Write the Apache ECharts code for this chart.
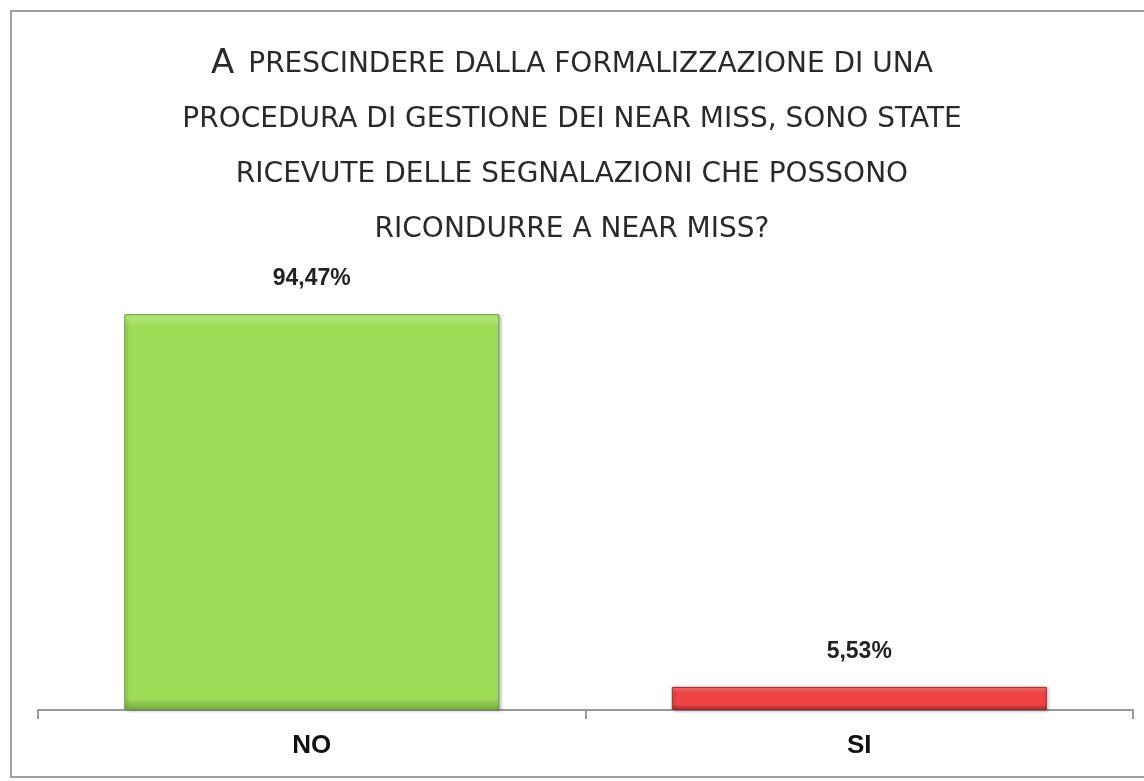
<!DOCTYPE html>
<html>
<head>
<meta charset="utf-8">
<title>Near miss</title>
<script src="https://cdn.jsdelivr.net/npm/echarts@6/dist/echarts.min.js"></script>
<style>
  html, body { margin: 0; padding: 0; background: #fff; }
  #chart { width: 1144px; height: 781px; }
</style>
</head>
<body>
<div id="chart"></div>
<script>
// dati
const categories = ['NO', 'SI']
const values = [94.47, 5.53]
const titleFirst = 'A'
const titleLines = [
  'PRESCINDERE DALLA FORMALIZZAZIONE DI UNA',
  'PROCEDURA DI GESTIONE DEI NEAR MISS, SONO STATE',
  'RICEVUTE DELLE SEGNALAZIONI CHE POSSONO',
  'RICONDURRE A NEAR MISS?'
]

// colori barre (verde / rosso) con effetto rilievo
function bevel(light, base, dark, edge) {
  return {
    type: 'linear', x: 0, y: 0, x2: 0, y2: 1,
    colorStops: [
      { offset: 0, color: light },
      { offset: edge, color: base },
      { offset: 1 - edge, color: base },
      { offset: 1, color: dark }
    ]
  }
}
const barStyles = [
  { color: bevel('#bdf082', '#9cdc57', '#76ab3c', 0.03), borderColor: '#6f9e3a' },
  { color: bevel('#ff7a7a', '#ee4444', '#a82a2a', 0.25), borderColor: '#9e2424' }
]

const titleText = titleLines.map(function (line, i) {
  return i === 0 ? '{a|' + titleFirst + '} {b| ' + line + '}' : '{b|' + line + '}'
}).join('\n')

const myChart = echarts.init(document.getElementById('chart'))
myChart.setOption({
  animation: false,
  backgroundColor: '#fff',
  title: {
    text: titleText,
    left: 'center',
    top: 37,
    padding: [0, 0, 0, 16],
    textStyle: {
      fontWeight: 'normal',
      rich: {
        a: { fontFamily: 'DejaVu Sans', fontWeight: 'normal', fontSize: 34, color: '#2a2a2a', lineHeight: 55 },
        b: { fontFamily: 'DejaVu Sans', fontWeight: 'normal', fontSize: 28, color: '#2a2a2a', lineHeight: 55 }
      }
    }
  },
  graphic: [{
    type: 'rect',
    shape: { x: 11, y: 11, width: 1150, height: 766 },
    style: { fill: 'none', stroke: '#a0a0a0', lineWidth: 2 },
    silent: true
  }],
  grid: {
    left: 38,
    right: 11,
    top: 291,
    bottom: 71
  },
  xAxis: {
    type: 'category',
    data: categories,
    axisLine: { lineStyle: { color: '#999', width: 2 } },
    axisTick: { show: true, length: 9, lineStyle: { color: '#999', width: 2 } },
    axisLabel: {
      margin: 23,
      fontFamily: 'Liberation Sans',
      fontWeight: 'bold',
      fontSize: 26,
      color: '#111'
    }
  },
  yAxis: {
    type: 'value',
    min: 0,
    max: 100,
    show: false
  },
  series: [{
    type: 'bar',
    barWidth: '68.5%',
    data: values.map(function (v, i) {
      return { value: v, itemStyle: Object.assign({ borderWidth: 1 }, barStyles[i]) }
    }),
    itemStyle: {
      shadowColor: 'rgba(0,0,0,0.25)',
      shadowBlur: 3,
      shadowOffsetX: 2,
      shadowOffsetY: 1
    },
    label: {
      show: true,
      position: 'top',
      distance: 24,
      fontFamily: 'Liberation Sans',
      fontWeight: 'bold',
      fontSize: 23,
      color: '#222',
      formatter: function (p) {
        return p.value.toFixed(2).replace('.', ',') + '%'
      }
    }
  }]
})
</script>
</body>
</html>
